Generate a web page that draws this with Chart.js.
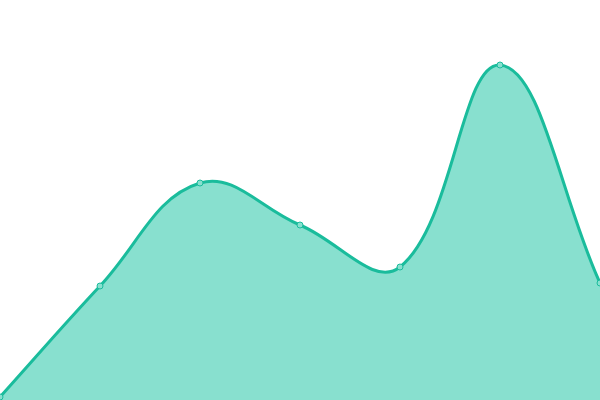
<!DOCTYPE html>
<html>
<head>
<meta charset="utf-8">
<script src="https://cdn.jsdelivr.net/npm/chart.js@4"></script>
<style>
  html, body { margin: 0; padding: 0; background: #fff; }
  #wrap { width: 600px; height: 400px; }
</style>
</head>
<body>
<div id="wrap"><canvas id="myAreaChart"></canvas></div>
<script>
var labels = ['1', '2', '3', '4', '5', '6', '7'];
var values = [3, 114, 217, 175, 133, 335, 117];

function drawAreaChart() {
    var ctx = document.getElementById("myAreaChart").getContext("2d");

    var graphData = {
        labels: labels,
        datasets: [{
            data: values,
            fill: true,
            tension: 0.4,
            backgroundColor: "rgba(136,224,207,1)",
            borderColor: "#1abc9c",
            borderWidth: 3,
            pointRadius: 3,
            pointBorderWidth: 1,
            pointBackgroundColor: "rgba(136,224,207,1)",
            pointBorderColor: "#1abc9c"
        }]
    };

    new Chart(ctx, {
        type: 'line',
        data: graphData,
        options: {
            responsive: true,
            maintainAspectRatio: false,
            animation: false,
            layout: { padding: 0, autoPadding: false },
            plugins: { legend: { display: false }, tooltip: { enabled: false } },
            scales: {
                x: { display: false, offset: false },
                y: { display: false, min: 0, max: 400 }
            }
        }
    });
}

drawAreaChart();
</script>
</body>
</html>
